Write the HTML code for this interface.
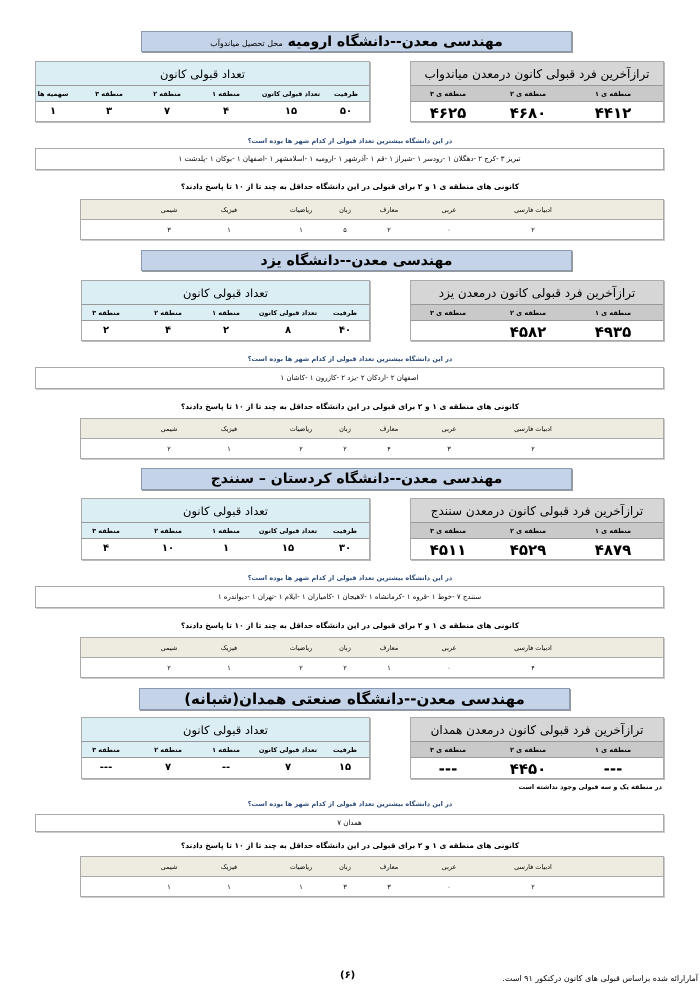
<!DOCTYPE html>
<html><head><meta charset="utf-8">
<style>
*{margin:0;padding:0;box-sizing:border-box}
body{width:700px;height:991px;background:#fff;position:relative;overflow:hidden;font-family:"DejaVu Sans","Liberation Sans",sans-serif;color:#000}
.s{position:absolute;left:0;width:700px;height:215px}
.a{position:absolute}
.title{left:141px;top:0;width:431px;height:21px;background:#c4d3e8;border:1px solid #8a9ab5;box-shadow:1px 1px 0 #999;text-align:center;font-size:14px;font-weight:bold;line-height:20px;direction:rtl}
.tb{border:1px solid #aaa;box-shadow:1px 1px 0 #bbb;background:#fff}
.h1{position:absolute;left:0;right:0;top:0;height:24px;font-size:11.5px;line-height:24px;text-align:center;direction:rtl;border-bottom:1px solid #999}
.h2{position:absolute;left:0;right:0;top:24px;height:16px;border-bottom:1px solid #999}
.c{position:absolute;transform:translateX(-50%);white-space:nowrap;direction:rtl;text-align:center}
.sm{font-size:6.5px;font-weight:bold;top:4px}
.v{font-size:10px;font-weight:bold;top:44px}
.big{font-size:15px;font-weight:bold;top:42px}
.q1{left:0;width:700px;text-align:center;font-size:6.5px;color:#2a4a7a;direction:rtl;font-weight:bold}
.city{left:35px;width:629px;height:22px;border:1px solid #aaa;box-shadow:1px 1px 0 #ccc;font-size:7px;direction:rtl;text-align:center;line-height:20px}
.q2{left:0;width:700px;text-align:center;font-size:7.5px;font-weight:bold;direction:rtl}
.sub{left:80px;width:584px;height:41px;border:1px solid #aaa;box-shadow:1px 1px 0 #ccc}
.sub .hd{position:absolute;left:0;right:0;top:0;height:20px;background:#eeece1;border-bottom:1px solid #aaa}
.sub .c{font-size:6.5px}
</style></head><body>

<!-- Section 1 -->
<div class="s" style="top:31px">
 <div class="a title">مهندسی معدن--دانشگاه ارومیه <span style="font-size:8px;font-weight:normal">محل تحصیل میاندوآب</span></div>
 <div class="a tb" style="left:35px;top:30px;width:335px;height:61px">
  <div class="h1" style="background:#dbeef3">تعداد قبولی کانون</div>
  <div class="h2" style="background:#dbeef3"></div>
  <span class="c sm" style="left:310px;top:28px">ظرفیت</span>
  <span class="c sm" style="left:255px;top:28px">تعداد قبولی کانون</span>
  <span class="c sm" style="left:190px;top:28px">منطقه ۱</span>
  <span class="c sm" style="left:131px;top:28px">منطقه ۲</span>
  <span class="c sm" style="left:73px;top:28px">منطقه ۳</span>
  <span class="c sm" style="left:17px;top:28px">سهمیه ها</span>
  <span class="c v" style="left:310px">۵۰</span><span class="c v" style="left:255px">۱۵</span><span class="c v" style="left:190px">۴</span><span class="c v" style="left:131px">۷</span><span class="c v" style="left:73px">۳</span><span class="c v" style="left:17px">۱</span>
 </div>
 <div class="a tb" style="left:410px;top:30px;width:254px;height:61px">
  <div class="h1" style="background:#d6d6d6;font-size:12px">ترازآخرین فرد قبولی کانون درمعدن میاندواب</div>
  <div class="h2" style="background:#c9c9c9"></div>
  <span class="c sm" style="left:202px;top:28px">منطقه ی ۱</span><span class="c sm" style="left:117px;top:28px">منطقه ی ۲</span><span class="c sm" style="left:37px;top:28px">منطقه ی ۳</span>
  <span class="c big" style="left:202px">۴۴۱۲</span><span class="c big" style="left:117px">۴۶۸۰</span><span class="c big" style="left:37px">۴۶۲۵</span>
 </div>
 <div class="a q1" style="top:106px">در این دانشگاه بیشترین تعداد قبولی از کدام شهر ها بوده است؟</div>
 <div class="a city" style="top:117px">تبریز ۳ -کرج ۲ -دهگلان ۱ -رودسر ۱ -شیراز ۱ -قم ۱ -آذرشهر ۱ -ارومیه ۱ -اسلامشهر ۱ -اصفهان ۱ -بوکان ۱ -پلدشت ۱</div>
 <div class="a q2" style="top:151px">کانونی های منطقه ی ۱ و ۲ برای قبولی در این دانشگاه حداقل به چند تا از ۱۰ تا پاسخ دادند؟</div>
 <div class="a sub" style="top:168px"><div class="hd"></div>
  <span class="c" style="left:452px;top:6px">ادبیات فارسی</span><span class="c" style="left:368px;top:6px">عربی</span><span class="c" style="left:308px;top:6px">معارف</span><span class="c" style="left:264px;top:6px">زبان</span><span class="c" style="left:220px;top:6px">ریاضیات</span><span class="c" style="left:148px;top:6px">فیزیک</span><span class="c" style="left:88px;top:6px">شیمی</span>
  <span class="c" style="left:452px;top:26px">۲</span><span class="c" style="left:368px;top:26px">۰</span><span class="c" style="left:308px;top:26px">۲</span><span class="c" style="left:264px;top:26px">۵</span><span class="c" style="left:220px;top:26px">۱</span><span class="c" style="left:148px;top:26px">۱</span><span class="c" style="left:88px;top:26px">۳</span>
 </div>
</div>

<!-- Section 2 -->
<div class="s" style="top:250px">
 <div class="a title">مهندسی معدن--دانشگاه یزد</div>
 <div class="a tb" style="left:81px;top:30px;width:289px;height:61px">
  <div class="h1" style="background:#dbeef3">تعداد قبولی کانون</div>
  <div class="h2" style="background:#dbeef3"></div>
  <span class="c sm" style="left:263px;top:28px">ظرفیت</span><span class="c sm" style="left:206px;top:28px">تعداد قبولی کانون</span><span class="c sm" style="left:144px;top:28px">منطقه ۱</span><span class="c sm" style="left:86px;top:28px">منطقه ۲</span><span class="c sm" style="left:24px;top:28px">منطقه ۳</span>
  <span class="c v" style="left:263px">۴۰</span><span class="c v" style="left:206px">۸</span><span class="c v" style="left:144px">۲</span><span class="c v" style="left:86px">۴</span><span class="c v" style="left:24px">۲</span>
 </div>
 <div class="a tb" style="left:410px;top:30px;width:254px;height:61px">
  <div class="h1" style="background:#d6d6d6;font-size:12px">ترازآخرین فرد قبولی کانون درمعدن یزد</div>
  <div class="h2" style="background:#c9c9c9"></div>
  <span class="c sm" style="left:202px;top:28px">منطقه ی ۱</span><span class="c sm" style="left:117px;top:28px">منطقه ی ۲</span><span class="c sm" style="left:37px;top:28px">منطقه ی ۳</span>
  <span class="c big" style="left:202px">۴۹۳۵</span><span class="c big" style="left:117px">۴۵۸۲</span>
 </div>
 <div class="a q1" style="top:105px">در این دانشگاه بیشترین تعداد قبولی از کدام شهر ها بوده است؟</div>
 <div class="a city" style="top:117px">اصفهان ۲ -اردکان ۲ -یزد ۲ -کازرون ۱ -کاشان ۱</div>
 <div class="a q2" style="top:152px">کانونی های منطقه ی ۱ و ۲ برای قبولی در این دانشگاه حداقل به چند تا از ۱۰ تا پاسخ دادند؟</div>
 <div class="a sub" style="top:168px"><div class="hd"></div>
  <span class="c" style="left:452px;top:6px">ادبیات فارسی</span><span class="c" style="left:368px;top:6px">عربی</span><span class="c" style="left:308px;top:6px">معارف</span><span class="c" style="left:264px;top:6px">زبان</span><span class="c" style="left:220px;top:6px">ریاضیات</span><span class="c" style="left:148px;top:6px">فیزیک</span><span class="c" style="left:88px;top:6px">شیمی</span>
  <span class="c" style="left:452px;top:26px">۲</span><span class="c" style="left:368px;top:26px">۳</span><span class="c" style="left:308px;top:26px">۴</span><span class="c" style="left:264px;top:26px">۲</span><span class="c" style="left:220px;top:26px">۲</span><span class="c" style="left:148px;top:26px">۱</span><span class="c" style="left:88px;top:26px">۲</span>
 </div>
</div>

<!-- Section 3 -->
<div class="s" style="top:468px">
 <div class="a title" style="height:22px">مهندسی معدن--دانشگاه کردستان – سنندج</div>
 <div class="a tb" style="left:81px;top:30px;width:289px;height:62px">
  <div class="h1" style="background:#dbeef3">تعداد قبولی کانون</div>
  <div class="h2" style="background:#dbeef3"></div>
  <span class="c sm" style="left:263px;top:28px">ظرفیت</span><span class="c sm" style="left:206px;top:28px">تعداد قبولی کانون</span><span class="c sm" style="left:144px;top:28px">منطقه ۱</span><span class="c sm" style="left:86px;top:28px">منطقه ۲</span><span class="c sm" style="left:24px;top:28px">منطقه ۳</span>
  <span class="c v" style="left:263px">۳۰</span><span class="c v" style="left:206px">۱۵</span><span class="c v" style="left:144px">۱</span><span class="c v" style="left:86px">۱۰</span><span class="c v" style="left:24px">۴</span>
 </div>
 <div class="a tb" style="left:410px;top:30px;width:254px;height:62px">
  <div class="h1" style="background:#d6d6d6;font-size:12px">ترازآخرین فرد قبولی کانون درمعدن سنندج</div>
  <div class="h2" style="background:#c9c9c9"></div>
  <span class="c sm" style="left:202px;top:28px">منطقه ی ۱</span><span class="c sm" style="left:117px;top:28px">منطقه ی ۲</span><span class="c sm" style="left:37px;top:28px">منطقه ی ۳</span>
  <span class="c big" style="left:202px">۴۸۷۹</span><span class="c big" style="left:117px">۴۵۲۹</span><span class="c big" style="left:37px">۴۵۱۱</span>
 </div>
 <div class="a q1" style="top:106px">در این دانشگاه بیشترین تعداد قبولی از کدام شهر ها بوده است؟</div>
 <div class="a city" style="top:118px">سنندج ۷ -خوط ۱ -قروه ۱ -کرمانشاه ۱ -لاهیجان ۱ -کامیاران ۱ -ایلام ۱ -تهران ۱ -دیواندره ۱</div>
 <div class="a q2" style="top:153px">کانونی های منطقه ی ۱ و ۲ برای قبولی در این دانشگاه حداقل به چند تا از ۱۰ تا پاسخ دادند؟</div>
 <div class="a sub" style="top:169px"><div class="hd"></div>
  <span class="c" style="left:452px;top:6px">ادبیات فارسی</span><span class="c" style="left:368px;top:6px">عربی</span><span class="c" style="left:308px;top:6px">معارف</span><span class="c" style="left:264px;top:6px">زبان</span><span class="c" style="left:220px;top:6px">ریاضیات</span><span class="c" style="left:148px;top:6px">فیزیک</span><span class="c" style="left:88px;top:6px">شیمی</span>
  <span class="c" style="left:452px;top:26px">۴</span><span class="c" style="left:368px;top:26px">۰</span><span class="c" style="left:308px;top:26px">۱</span><span class="c" style="left:264px;top:26px">۲</span><span class="c" style="left:220px;top:26px">۲</span><span class="c" style="left:148px;top:26px">۱</span><span class="c" style="left:88px;top:26px">۲</span>
 </div>
</div>

<!-- Section 4 -->
<div class="s" style="top:688px">
 <div class="a title" style="left:139px;height:22px;font-size:15px">مهندسی معدن--دانشگاه صنعتی همدان(شبانه)</div>
 <div class="a tb" style="left:81px;top:29px;width:289px;height:62px">
  <div class="h1" style="background:#dbeef3">تعداد قبولی کانون</div>
  <div class="h2" style="background:#dbeef3"></div>
  <span class="c sm" style="left:263px;top:28px">ظرفیت</span><span class="c sm" style="left:206px;top:28px">تعداد قبولی کانون</span><span class="c sm" style="left:144px;top:28px">منطقه ۱</span><span class="c sm" style="left:86px;top:28px">منطقه ۲</span><span class="c sm" style="left:24px;top:28px">منطقه ۳</span>
  <span class="c v" style="left:263px">۱۵</span><span class="c v" style="left:206px">۷</span><span class="c v" style="left:144px">--</span><span class="c v" style="left:86px">۷</span><span class="c v" style="left:24px">---</span>
 </div>
 <div class="a tb" style="left:410px;top:29px;width:254px;height:62px">
  <div class="h1" style="background:#d6d6d6;font-size:12px">ترازآخرین فرد قبولی کانون درمعدن همدان</div>
  <div class="h2" style="background:#c9c9c9"></div>
  <span class="c sm" style="left:202px;top:28px">منطقه ی ۱</span><span class="c sm" style="left:117px;top:28px">منطقه ی ۲</span><span class="c sm" style="left:37px;top:28px">منطقه ی ۳</span>
  <span class="c big" style="left:202px">---</span><span class="c big" style="left:117px">۴۴۵۰</span><span class="c big" style="left:37px">---</span>
 </div>
 <div class="a" style="left:520px;top:95px;width:142px;text-align:right;direction:rtl;font-size:6.5px;font-weight:bold;white-space:nowrap">در منطقه یک و سه قبولی وجود نداشته است</div>
 <div class="a q1" style="top:112px">در این دانشگاه بیشترین تعداد قبولی از کدام شهر ها بوده است؟</div>
 <div class="a city" style="top:126px;height:18px;line-height:16px">همدان ۷</div>
 <div class="a q2" style="top:153px">کانونی های منطقه ی ۱ و ۲ برای قبولی در این دانشگاه حداقل به چند تا از ۱۰ تا پاسخ دادند؟</div>
 <div class="a sub" style="top:168px"><div class="hd"></div>
  <span class="c" style="left:452px;top:6px">ادبیات فارسی</span><span class="c" style="left:368px;top:6px">عربی</span><span class="c" style="left:308px;top:6px">معارف</span><span class="c" style="left:264px;top:6px">زبان</span><span class="c" style="left:220px;top:6px">ریاضیات</span><span class="c" style="left:148px;top:6px">فیزیک</span><span class="c" style="left:88px;top:6px">شیمی</span>
  <span class="c" style="left:452px;top:26px">۲</span><span class="c" style="left:368px;top:26px">۰</span><span class="c" style="left:308px;top:26px">۳</span><span class="c" style="left:264px;top:26px">۳</span><span class="c" style="left:220px;top:26px">۱</span><span class="c" style="left:148px;top:26px">۱</span><span class="c" style="left:88px;top:26px">۱</span>
 </div>
</div>

<div class="a" style="left:340px;top:970px;font-size:10px;font-weight:bold">(۶)</div>
<div class="a" style="left:470px;top:974px;width:228px;text-align:right;direction:rtl;font-size:8px;white-space:nowrap">آمارارائه شده براساس قبولی های کانون درکنکور ۹۱ است.</div>
</body></html>
